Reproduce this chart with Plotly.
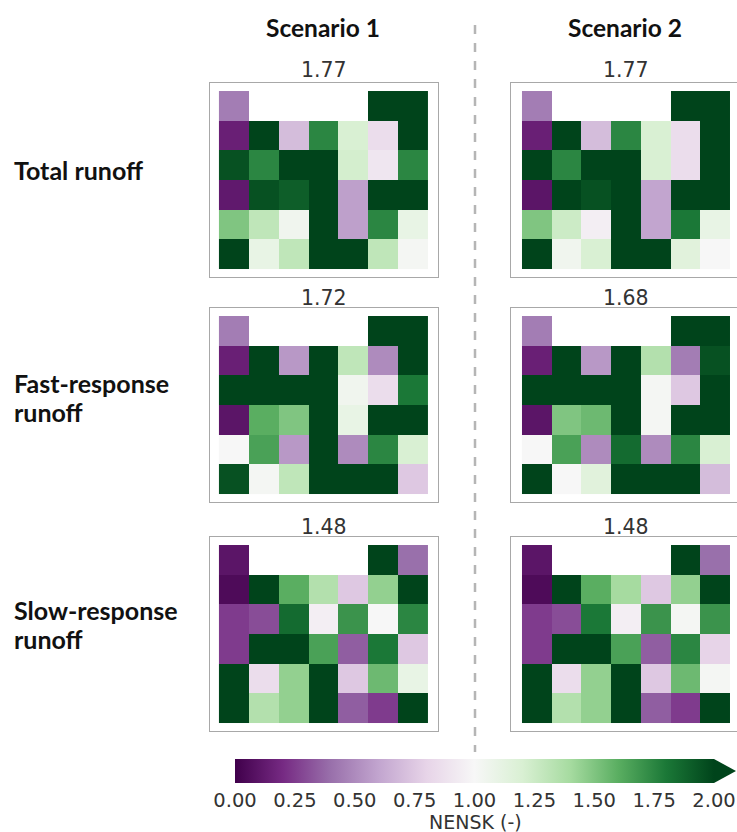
import plotly.graph_objects as go

W, H = 737, 832
N = None

# NENSK values per grid cell (rows top -> bottom, 7 columns); None = no data
total_s1 = [
    [0.45, N, N, N, N, 2.0, 2.0],
    [0.15, 2.0, 0.70, 1.75, 1.20, 0.85, 2.0],
    [1.95, 1.75, 2.0, 2.0, 1.22, 0.90, 1.75],
    [0.12, 1.95, 1.90, 2.0, 0.58, 2.0, 2.0],
    [1.50, 1.30, 1.05, 2.0, 0.58, 1.75, 1.10],
    [2.0, 1.10, 1.30, 2.0, 2.0, 1.30, 1.02],
]
total_s2 = [
    [0.45, N, N, N, N, 2.0, 2.0],
    [0.15, 2.0, 0.70, 1.75, 1.20, 0.85, 2.0],
    [2.0, 1.75, 2.0, 2.0, 1.20, 0.85, 2.0],
    [0.10, 2.0, 1.95, 2.0, 0.60, 2.0, 2.0],
    [1.50, 1.25, 0.95, 2.0, 0.60, 1.80, 1.10],
    [2.0, 1.05, 1.20, 2.0, 2.0, 1.15, 1.00],
]
fast_s1 = [
    [0.45, N, N, N, N, 2.0, 2.0],
    [0.15, 2.0, 0.55, 2.0, 1.30, 0.50, 2.0],
    [2.0, 2.0, 2.0, 2.0, 1.05, 0.85, 1.80],
    [0.10, 1.60, 1.50, 2.0, 1.10, 2.0, 2.0],
    [1.00, 1.65, 0.55, 2.0, 0.50, 1.75, 1.20],
    [1.95, 1.02, 1.30, 2.0, 2.0, 2.0, 0.75],
]
fast_s2 = [
    [0.45, N, N, N, N, 2.0, 2.0],
    [0.15, 2.0, 0.55, 2.0, 1.35, 0.45, 1.95],
    [2.0, 2.0, 2.0, 2.0, 1.02, 0.75, 2.0],
    [0.10, 1.50, 1.55, 2.0, 1.02, 2.0, 2.0],
    [1.00, 1.65, 0.50, 1.85, 0.50, 1.75, 1.20],
    [2.0, 1.00, 1.15, 2.0, 2.0, 2.0, 0.70],
]
slow_s1 = [
    [0.10, N, N, N, N, 2.0, 0.40],
    [0.05, 2.0, 1.60, 1.35, 0.75, 1.45, 2.0],
    [0.25, 0.30, 1.85, 0.95, 1.70, 1.00, 1.75],
    [0.25, 2.0, 2.0, 1.65, 0.35, 1.80, 0.75],
    [2.0, 0.85, 1.45, 2.0, 0.75, 1.55, 1.10],
    [2.0, 1.35, 1.45, 2.0, 0.35, 0.25, 2.0],
]
slow_s2 = [
    [0.10, N, N, N, N, 2.0, 0.40],
    [0.05, 2.0, 1.60, 1.40, 0.75, 1.45, 2.0],
    [0.25, 0.30, 1.80, 0.95, 1.70, 1.02, 1.70],
    [0.25, 2.0, 2.0, 1.65, 0.35, 1.75, 0.80],
    [2.0, 0.85, 1.45, 2.0, 0.75, 1.55, 1.02],
    [2.0, 1.35, 1.45, 2.0, 0.35, 0.25, 2.0],
]

panel_titles = [["1.77", "1.77"], ["1.72", "1.68"], ["1.48", "1.48"]]
scenario_labels = ["Scenario 1", "Scenario 2"]
row_labels = [["Total runoff"], ["Fast-response", "runoff"], ["Slow-response", "runoff"]]
cbar_ticks = [0.0, 0.25, 0.5, 0.75, 1.0, 1.25, 1.5, 1.75, 2.0]
cbar_ticktext = ["0.00", "0.25", "0.50", "0.75", "1.00", "1.25", "1.50", "1.75", "2.00"]
cbar_title = "NENSK (-)"

grids = [[total_s1, total_s2], [fast_s1, fast_s2], [slow_s1, slow_s2]]
cols_x = list(range(7))
rows_y = list(range(6))

# layout geometry (pixels)
col_box = [(210, 438), (511, 737)]
col_xrange = [[-0.80, 6.84], [-0.87, 6.74]]
row_box = [(83, 277), (308, 502), (537, 731)]
title_y = [70, 298, 527]
col_center = [324, 626]


def px_x(p):
    return p / W


def px_y(p):
    return 1 - p / H


fig = go.Figure()
layout = dict(
    width=W, height=H, margin=dict(l=0, r=0, t=0, b=0, autoexpand=False),
    paper_bgcolor="white", plot_bgcolor="white", showlegend=False,
)
annotations = []
k = 0
for r in range(3):
    for c in range(2):
        k += 1
        xa = "x" if k == 1 else f"x{k}"
        ya = "y" if k == 1 else f"y{k}"
        first = (k == 1)
        fig.add_trace(go.Heatmap(
            z=grids[r][c], x=cols_x, y=rows_y,
            colorscale="PRGn", zmin=0, zmax=2,
            showscale=first, xaxis=xa, yaxis=ya, hoverongaps=False,
            colorbar=dict(
                orientation="h", x=(235 + 714) / 2 / W, xanchor="center",
                y=px_y(759), yanchor="top", len=(714 - 235) / W, lenmode="fraction",
                thickness=24, thicknessmode="pixels", xpad=0, ypad=0,
                outlinewidth=0, tickvals=cbar_ticks, ticktext=cbar_ticktext,
                ticks="", tickfont=dict(family="DejaVu Sans", size=19.5, color="#333"),
            ) if first else None,
        ))
        axis_common = dict(showticklabels=False, showgrid=False, zeroline=False,
                           showline=True, mirror=True, linecolor="#a8a8a8",
                           linewidth=1, ticks="", fixedrange=True)
        layout["xaxis" if k == 1 else f"xaxis{k}"] = dict(
            domain=[px_x(col_box[c][0]), px_x(col_box[c][1])],
            range=col_xrange[c], anchor=ya, **axis_common)
        layout["yaxis" if k == 1 else f"yaxis{k}"] = dict(
            domain=[px_y(row_box[r][1]), px_y(row_box[r][0])],
            range=[5.77, -0.77], anchor=xa, **axis_common)
        annotations.append(dict(
            text=panel_titles[r][c], xref="paper", yref="paper",
            x=px_x(col_center[c]), y=px_y(title_y[r]), xanchor="center", yanchor="middle",
            showarrow=False, font=dict(family="DejaVu Sans", size=20.5, color="#333")))

for c in range(2):
    annotations.append(dict(
        text=f"<b>{scenario_labels[c]}</b>", xref="paper", yref="paper",
        x=px_x(col_center[c] - 1), y=px_y(28), xanchor="center", yanchor="middle",
        showarrow=False, font=dict(family="Lato", size=24.5, color="#111")))

row_label_y = [[170], [383, 412], [610, 639]]
for r in range(3):
    for line, yy in zip(row_labels[r], row_label_y[r]):
        annotations.append(dict(
            text=f"<b>{line}</b>", xref="paper", yref="paper",
            x=px_x(12), y=px_y(yy), xanchor="left", yanchor="middle",
            showarrow=False, font=dict(family="Lato", size=25, color="#111")))

annotations.append(dict(
    text=cbar_title, xref="paper", yref="paper",
    x=px_x(476), y=px_y(822), xanchor="center", yanchor="middle",
    showarrow=False, font=dict(family="DejaVu Sans", size=19, color="#333")))

layout["annotations"] = annotations
layout["shapes"] = [
    dict(type="line", xref="paper", yref="paper",
         x0=px_x(475), x1=px_x(475), y0=px_y(25), y1=px_y(752),
         line=dict(color="#b5b5b5", width=2.5, dash="dash")),
    dict(type="path", xref="paper", yref="paper",
         path=f"M {px_x(714)},{px_y(759)} L {px_x(736)},{px_y(771)} L {px_x(714)},{px_y(783)} Z",
         fillcolor="rgb(0,68,27)", line=dict(width=0)),
]
fig.update_layout(**layout)
fig.write_html("out.html", config={"displayModeBar": False},
               post_script="document.body.style.margin='0px';document.body.style.overflow='hidden';")
